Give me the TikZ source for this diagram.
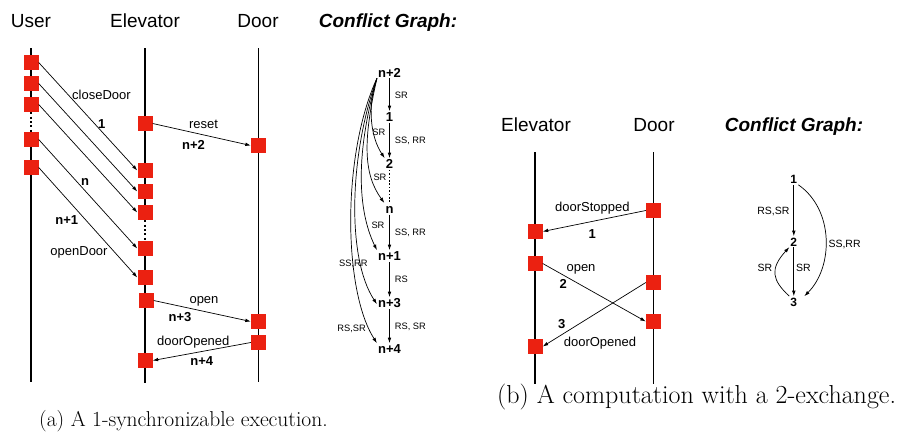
\documentclass[tikz,border=0pt]{standalone}
\usepackage{fontspec}
\setsansfont{Liberation Sans}
\usetikzlibrary{arrows.meta}
\definecolor{evred}{RGB}{235,33,17}
\pgfdeclarelayer{back}
\pgfsetlayers{back,main}
\tikzset{
	evbox/.style={fill=evred, minimum size=15pt, inner sep=0pt},
	lifeln/.style={line width=1.8pt},
	dotln/.style={line width=1.8pt, dash pattern=on 2pt off 2.4pt},
	msg/.style={line width=0.7pt, -{Latex[length=5.5pt,width=3.6pt]}},
	hdr/.style={font=\sffamily\fontsize{19}{22}\selectfont, anchor=base, inner sep=0pt},
	cghdr/.style={font=\sffamily\bfseries\itshape\fontsize{19}{22}\selectfont, anchor=base, inner sep=0pt},
	mlab/.style={font=\sffamily\fontsize{13}{15}\selectfont, anchor=base, inner sep=0pt},
	mnum/.style={font=\sffamily\bfseries\fontsize{13}{15}\selectfont, anchor=base, inner sep=0pt},
	gnode/.style={font=\sffamily\bfseries\fontsize{13}{15}\selectfont, inner sep=1pt, text height=9.3pt, text depth=0pt},
	rnode/.style={font=\sffamily\bfseries\fontsize{12}{14}\selectfont, inner sep=1pt, text height=8.6pt, text depth=0pt},
	glab/.style={font=\sffamily\fontsize{9.3}{11}\selectfont, inner sep=0pt, text height=6.7pt, text depth=0pt},
	rlab/.style={font=\sffamily\fontsize{10.5}{12}\selectfont, inner sep=0pt, text height=7.5pt, text depth=0pt},
	capt/.style={anchor=base west, inner sep=0pt},
}

\begin{document}
\begin{tikzpicture}[x=1pt,y=-1pt]
	%%%%% FRAME %%%%%
	\useasboundingbox (0,0) rectangle (904,437);

	%%%%% (a) EXECUTION %%%%%
	\node[hdr] (hUser) at (31,27) {User};
	\node[hdr] (hElevA) at (145,27) {Elevator};
	\node[hdr] (hDoorA) at (258,27) {Door};
	\node[cghdr] (hCgA) at (388,27) {Conflict Graph:};

	\coordinate (uTop) at (31,48);
	\coordinate (uBot) at (31,382);
	\coordinate (eTop) at (145,48);
	\coordinate (eBot) at (145,383);
	\coordinate (dTop) at (258.5,48);
	\coordinate (dBot) at (258.5,382);

	\node[evbox] (u1) at (31,62.5) {};
	\node[evbox] (u2) at (31,83.5) {};
	\node[evbox] (u3) at (31,104.5) {};
	\node[evbox] (u4) at (31,139.5) {};
	\node[evbox] (u5) at (31,167.5) {};

	\node[evbox] (eR) at (145,123.5) {};
	\node[evbox] (e1) at (145,170.5) {};
	\node[evbox] (e2) at (145,191.5) {};
	\node[evbox] (e3) at (145,212.5) {};
	\node[evbox] (e4) at (145,248.5) {};
	\node[evbox] (e5) at (145,277.5) {};
	\node[evbox] (eO) at (146,300.5) {};
	\node[evbox] (eD) at (145,360.5) {};

	\node[evbox] (dR) at (258.5,145.5) {};
	\node[evbox] (dO) at (258.5,321.5) {};
	\node[evbox] (dD) at (258.5,342.5) {};

	\begin{pgfonlayer}{back}
		\draw[lifeln] (uTop) -- (u3.south);
		\draw[dotln] (u3.south) -- (u4.north);
		\draw[lifeln] (u4.north) -- (uBot);
		\draw[lifeln] (eTop) -- (e3.south);
		\draw[dotln] (e3.south) -- (e4.north);
		\draw[lifeln] (e4.north) -- (eBot);
		\draw[lifeln] (dTop) -- (dBot);
	\end{pgfonlayer}

	\draw[msg] (u1.east) -- (e1.west);
	\draw[msg] (u2.east) -- (e2.west);
	\draw[msg] (u3.east) -- (e3.west);
	\draw[msg] (u4.east) -- (e4.west);
	\draw[msg] (u5.east) -- (e5.west);
	\draw[msg] (eR.east) -- (dR.west);
	\draw[msg] (eO.east) -- (dO.west);
	\draw[msg] (dD.west) -- (eD.east);

	\node[mlab] (lClose) at (101.5,99.2) {closeDoor};
	\node[mnum] (nOne) at (101.7,128.7) {1};
	\node[mnum] (nN) at (85,185.1) {n};
	\node[mnum] (nNp1) at (66.7,224.6) {n+1};
	\node[mlab] (lOpenD) at (79,255) {openDoor};
	\node[mlab] (lReset) at (203.5,128.5) {reset};
	\node[mnum] (nNp2) at (193.5,149.6) {n+2};
	\node[mlab] (lOpen) at (204,303.5) {open};
	\node[mnum] (nNp3) at (180,321.3) {n+3};
	\node[mlab] (lOpened) at (193.3,345) {doorOpened};
	\node[mnum] (nNp4) at (201.7,365.6) {n+4};

	%%%%% (a) CONFLICT GRAPH %%%%%
	\node[gnode] (g2) at (389.5,72.5) {n+2};
	\node[gnode] (g1) at (389.5,117) {1};
	\node[gnode] (g3) at (389.5,164) {2};
	\node[gnode] (g4) at (389.5,208.8) {n};
	\node[gnode] (g5) at (389.5,256) {n+1};
	\node[gnode] (g6) at (389.5,303) {n+3};
	\node[gnode] (g7) at (389.5,349) {n+4};

	\draw[msg] (g2) -- node[glab, right=5pt] {SR} (g1);
	\draw[msg] (g1) -- node[glab, right=5pt] {SS, RR} (g3);
	\draw[line width=1.4pt, dash pattern=on 1.6pt off 1.8pt] (g3) -- (g4);
	\draw[msg] (g4) -- node[glab, right=5pt] {SS, RR} (g5);
	\draw[msg] (g5) -- node[glab, right=5pt] {RS} (g6);
	\draw[msg] (g6) -- node[glab, right=5pt] {RS, SR} (g7);

	\draw[msg] (g2.south west) .. controls +(-10,28) and +(-14,-21) .. (g3.north west);
	\draw[msg] (g2.south west) .. controls +(-14,62) and +(-21,-29) .. (g4.north west);
	\draw[msg] (g2.south west) .. controls +(-21,73) and +(-20,-41) .. (g5.north west);
	\draw[msg] (g2.south west) .. controls +(-27,74) and +(-31,-47) .. ([yshift=-7pt]g6.north west);
	\draw[msg] (g2.south west) .. controls +(-35,76) and +(-34,-53) .. (g7.north west);

	\node[glab] (cSR1) at (378.8,132.3) {SR};
	\node[glab] (cSR2) at (380,176.7) {SR};
	\node[glab] (cSR3) at (378,225) {SR};
	\node[glab] (cSSRR) at (353.3,263.3) {SS,RR};
	\node[glab] (cRSSR) at (351.7,328.3) {RS,SR};

	%%%%% (b) EXCHANGE %%%%%
	\node[hdr] (hElevB) at (536,131) {Elevator};
	\node[hdr] (hDoorB) at (654,131) {Door};
	\node[cghdr] (hCgB) at (794,131) {Conflict Graph:};

	\coordinate (ebTop) at (535,152);
	\coordinate (ebBot) at (535,384);
	\coordinate (dbTop) at (653.5,152);
	\coordinate (dbBot) at (653.5,384);

	\node[evbox] (dbS) at (653.5,210.5) {};
	\node[evbox] (ebS) at (535,231.5) {};
	\node[evbox] (ebO) at (535,263.5) {};
	\node[evbox] (dbD) at (653.5,282.5) {};
	\node[evbox] (dbO) at (653.5,321.5) {};
	\node[evbox] (ebD) at (535,346.5) {};

	\begin{pgfonlayer}{back}
		\draw[lifeln] (ebTop) -- (ebBot);
		\draw[lifeln] (dbTop) -- (dbBot);
	\end{pgfonlayer}

	\draw[msg] (dbS.west) -- (ebS.east);
	\draw[msg] (ebO.east) -- (dbO.west);
	\draw[msg] (dbD.west) -- (ebD.east);

	\node[mlab] (lStopped) at (592.3,211) {doorStopped};
	\node[mnum] (mOne) at (592.3,238) {1};
	\node[mlab] (lOpenB) at (581,271.7) {open};
	\node[mnum] (mTwo) at (563.3,288) {2};
	\node[mnum] (mThree) at (561.7,328.6) {3};
	\node[mlab] (lOpenedB) at (600,346) {doorOpened};

	%%%%% (b) CONFLICT GRAPH %%%%%
	\node[rnode] (h1) at (793.8,179.3) {1};
	\node[rnode] (h2) at (793.8,241.7) {2};
	\node[rnode] (h3) at (793.8,301.7) {3};

	\draw[msg] (h1) -- node[rlab, left=4pt] {RS,SR} (h2);
	\draw[msg] (h2) -- node[rlab, right=2pt, pos=0.42] {SR} (h3);
	\draw[msg] (h3.north west) .. controls +(-17,-16) and +(-20,22) .. (h2.south west);
	\draw[msg] (h1.south east) .. controls +(36,25) and +(29,-29) .. ([xshift=6pt]h3.north east);

	\node[rlab] (rSR) at (765,267.3) {SR};
	\node[rlab, anchor=west] (rSSRR) at (828.3,244) {SS,RR};

	%%%%% CAPTIONS %%%%%
	\node[capt, font=\fontsize{21.5}{25}\selectfont] (capA) at (39,426) {(a) A 1-synchronizable execution.};
	\node[capt, font=\fontsize{26}{30}\selectfont] (capB) at (497,403) {(b) A computation with a 2-exchange.};
\end{tikzpicture}
\end{document}
